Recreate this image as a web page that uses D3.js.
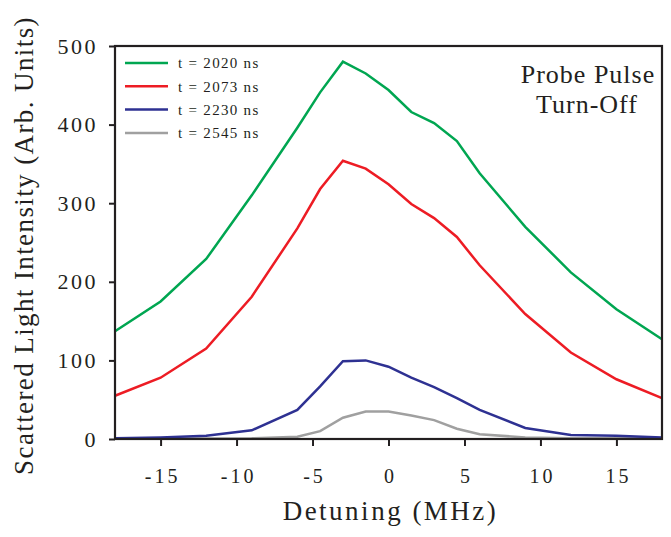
<!DOCTYPE html>
<html>
<head>
<meta charset="utf-8">
<script src="https://cdn.jsdelivr.net/npm/d3@7"></script>
<style>
body { margin: 0; background: #fff; }
text { font-family: "Liberation Serif", "Times New Roman", serif; fill: #231f20; }
</style>
</head>
<body>
<div id="chart"></div>
<script>
// detuning values (MHz)
var detuning = [-18, -15, -12, -9, -6, -4.5, -3, -1.5, 0, 1.5, 3, 4.5, 6, 9, 12, 15, 18];

// scattered intensity for each time
var t2020 = [137, 175, 229, 310, 396, 441, 480, 465, 444, 416, 402, 379, 338, 270, 212, 165, 127];
var t2073 = [55, 78, 115, 181, 268, 318, 354, 344, 324, 299, 281, 257, 221, 159, 110, 76, 52];
var t2230 = [1, 2, 4, 11, 37, 67, 99, 100, 92, 78, 66, 52, 37, 14, 5, 4, 2];
var t2545 = [0.5, 0.5, 0.5, 0.8, 3, 10, 27, 35, 35, 30, 24, 13, 6, 2, 1, 1, 1];

var seriesNames = ["t = 2020 ns", "t = 2073 ns", "t = 2230 ns", "t = 2545 ns"];
var seriesValues = [t2020, t2073, t2230, t2545];
var colors = ["#00a651", "#ed1c24", "#2e3192", "#a0a0a0"];

var xTicks = [-15, -10, -5, 0, 5, 10, 15];
var yTicks = [0, 100, 200, 300, 400, 500];

// set the dimensions and margins of the graph
var margin = {top: 46, right: 9, bottom: 98, left: 115},
width = 671 - margin.left - margin.right,
height = 537 - margin.top - margin.bottom;

var svg = d3.select("#chart")
.append("svg")
.attr("width", 671)
.attr("height", 537)
.append("g")
.attr("transform", "translate(" + margin.left + "," + margin.top + ")");

var x = d3.scaleLinear().domain([-18, 18]).range([0, width]);
var y = d3.scaleLinear().domain([0, 500]).range([height, 0]);

// X axis
var xAxis = svg.append("g")
.attr("transform", "translate(0," + height + ")")
.call(d3.axisBottom(x).tickValues(xTicks).tickSize(7).tickPadding(23)
  .tickFormat(function(d){ return d < 0 ? "-" + Math.abs(d) : d; }));
xAxis.selectAll("text").style("font-size", "20px").style("letter-spacing", "3px")
.attr("dx", "1.5px");

// Y axis
var yAxis = svg.append("g")
.call(d3.axisLeft(y).tickValues(yTicks).tickSize(6).tickPadding(11));
yAxis.selectAll("text").style("font-size", "22px").style("letter-spacing", "2.5px");

[xAxis, yAxis].forEach(function(a){
  a.select(".domain").remove();
  a.selectAll("line").attr("stroke", "#231f20").attr("stroke-width", 2);
});

// lines
var line = d3.line()
.x(function(d, i){ return x(detuning[i]); })
.y(function(d){ return y(d); });

seriesValues.slice().reverse().forEach(function(vals, k){
  var i = seriesValues.length - 1 - k;
  svg.append("path")
  .datum(vals)
  .attr("fill", "none")
  .attr("stroke", colors[i])
  .attr("stroke-width", 2.5)
  .attr("stroke-linejoin", "miter")
  .attr("d", line);
});

// frame
svg.append("rect")
.attr("x", 0).attr("y", 0)
.attr("width", width).attr("height", height)
.attr("fill", "none")
.attr("stroke", "#231f20")
.attr("stroke-width", 2.2);

// legend
var legend = svg.append("g").attr("transform", "translate(10,17)");
seriesNames.forEach(function(name, i){
  var g = legend.append("g").attr("transform", "translate(0," + (i * 23.3) + ")");
  g.append("line").attr("x1", 0).attr("x2", 43).attr("y1", 0).attr("y2", 0)
  .attr("stroke", colors[i]).attr("stroke-width", 2.5);
  g.append("text").attr("x", 53).attr("dy", "0.35em")
  .style("font-size", "15px").style("letter-spacing", "1.3px").text(name);
});

// annotation
var note = svg.append("text")
.attr("text-anchor", "middle")
.style("font-size", "26px")
.style("letter-spacing", "1px");
note.append("tspan").attr("x", 473).attr("y", 37).text("Probe Pulse");
note.append("tspan").attr("x", 472).attr("y", 67).text("Turn-Off");

// Label for x axis
svg.append("text")
.attr("x", x(0) + 2)
.attr("y", height + 81)
.style("text-anchor", "middle")
.style("font-size", "27px")
.style("letter-spacing", "2.5px")
.text("Detuning (MHz)");

// Label for y axis
svg.append("text")
.attr("transform", "rotate(-90)")
.attr("x", -height / 2 - 3)
.attr("y", -82)
.style("text-anchor", "middle")
.style("font-size", "27px")
.style("letter-spacing", "1.4px")
.text("Scattered Light Intensity (Arb. Units)");
</script>
</body>
</html>
